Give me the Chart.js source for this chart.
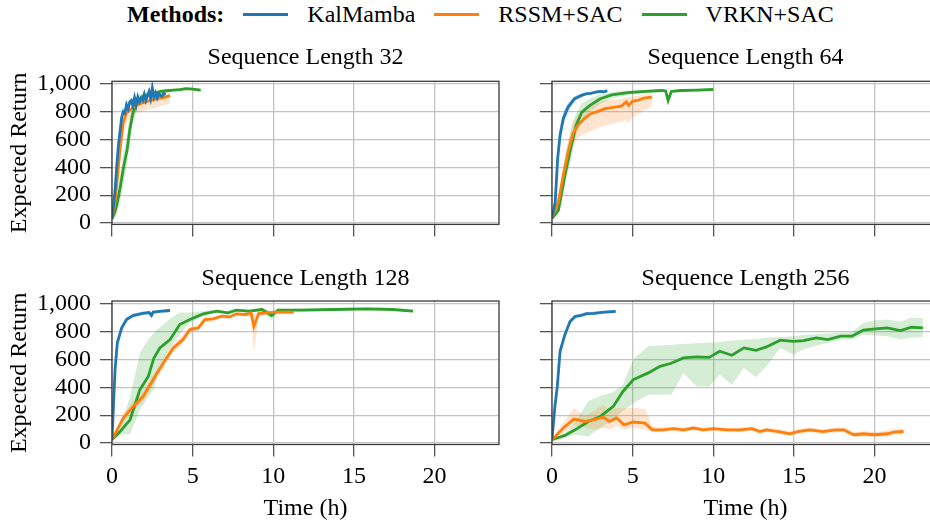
<!DOCTYPE html>
<html>
<head>
<meta charset="utf-8">
<script src="https://cdn.jsdelivr.net/npm/chart.js@4.4.1/dist/chart.umd.min.js"></script>
<style>
  html, body { margin: 0; padding: 0; background: #fff; }
  body { width: 930px; height: 523px; overflow: hidden; position: relative; }
  canvas { position: absolute; }
  #legend {
    position: absolute; left: 127px; top: 1px; white-space: nowrap;
    font-family: 'Liberation Serif', 'Times New Roman', serif; font-size: 24px; line-height: 27px;
    color: #000;
  }
  #legend .sw { display: inline-block; width: 45px; height: 3px; vertical-align: 6px; margin: 0 19px; }
</style>
</head>
<body>
<div id="legend"></div>
<canvas id="c32" width="520" height="230" style="left:0px;top:30px;width:520px;height:230px"></canvas>
<canvas id="c64" width="420" height="230" style="left:520px;top:30px;width:420px;height:230px"></canvas>
<canvas id="c128" width="520" height="263" style="left:0px;top:260px;width:520px;height:263px"></canvas>
<canvas id="c256" width="420" height="263" style="left:520px;top:260px;width:420px;height:263px"></canvas>
<script>
// ---- data (time in h, expected return) ----
var methodNames = ['KalMamba', 'RSSM+SAC', 'VRKN+SAC'];
var methodColors = ['#1f77b4', '#ff7f0e', '#2ca02c'];
var bandColors = ['rgba(31,119,180,0.22)', 'rgba(255,127,14,0.2)', 'rgba(44,160,44,0.2)'];
var panelTitles = ['Sequence Length 32', 'Sequence Length 64', 'Sequence Length 128', 'Sequence Length 256'];
var xTicks = [0, 5, 10, 15, 20];
var yTicks = [0, 200, 400, 600, 800, 1000];
var yTickLabels = ['0', '200', '400', '600', '800', '1,000'];

// sequence length 32
var kal32T = [0, 0.1, 0.2, 0.3, 0.4, 0.5, 0.6, 0.7, 0.8, 0.9, 1.0, 1.1, 1.2, 1.3, 1.4, 1.5, 1.6, 1.7, 1.8, 1.9, 2.0, 2.1, 2.2, 2.3, 2.4, 2.5, 2.6, 2.7, 2.8, 2.9, 3.0, 3.1, 3.2, 3.33];
var kal32Mean = [30, 130, 250, 420, 560, 660, 760, 800, 790, 850, 820, 870, 880, 840, 900, 850, 905, 870, 895, 880, 925, 880, 915, 945, 895, 970, 905, 935, 900, 930, 915, 910, 930, 925];
var kal32Lo = [26, 100, 210, 370, 510, 620, 720, 770, 760, 820, 795, 845, 855, 815, 875, 825, 880, 845, 870, 855, 900, 855, 890, 915, 870, 935, 880, 910, 875, 905, 890, 885, 905, 900];
var kal32Hi = [34, 160, 290, 470, 610, 700, 800, 830, 820, 880, 845, 895, 905, 865, 925, 875, 930, 895, 920, 905, 950, 905, 940, 970, 920, 995, 930, 960, 925, 955, 940, 935, 955, 950];
var rssm32T = [0, 0.15, 0.3, 0.5, 0.7, 0.9, 1.2, 1.5, 1.8, 2.1, 2.4, 2.7, 3.0, 3.3, 3.6];
var rssm32Mean = [35, 120, 280, 535, 725, 790, 820, 845, 860, 870, 880, 890, 897, 905, 915];
var rssm32Lo = [30, 80, 200, 440, 640, 720, 760, 790, 800, 810, 820, 830, 840, 850, 860];
var rssm32Hi = [40, 160, 360, 620, 800, 850, 880, 900, 915, 920, 925, 930, 935, 935, 935];
var vrkn32T = [0, 0.15, 0.3, 0.5, 0.7, 0.95, 1.1, 1.3, 1.6, 1.9, 2.2, 2.6, 3.0, 3.4, 3.8, 4.2, 4.6, 5.0, 5.5];
var vrkn32Mean = [30, 70, 130, 250, 390, 535, 670, 790, 875, 910, 920, 930, 945, 950, 955, 958, 965, 962, 955];
var vrkn32Lo = [28, 40, 70, 150, 280, 430, 580, 720, 830, 885, 905, 915, 935, 940, 945, 948, 955, 952, 945];
var vrkn32Hi = [32, 100, 190, 350, 500, 640, 760, 850, 910, 935, 940, 945, 955, 960, 965, 968, 975, 972, 965];

// sequence length 64
var kal64T = [0, 0.2, 0.35, 0.5, 0.7, 1.0, 1.4, 1.8, 2.1, 2.4, 2.7, 3.0, 3.2, 3.43];
var kal64Mean = [34, 153, 463, 630, 749, 833, 893, 915, 928, 932, 940, 945, 942, 950];
var kal64Lo = [30, 100, 380, 560, 700, 800, 875, 905, 918, 922, 930, 935, 932, 940];
var kal64Hi = [38, 210, 540, 700, 800, 865, 910, 928, 938, 942, 950, 955, 952, 960];
var rssm64T = [0, 0.4, 0.7, 1.0, 1.3, 1.6, 2.0, 2.4, 2.8, 3.3, 3.8, 4.3, 4.6, 4.75, 5.0, 5.3, 5.6, 5.9, 6.2];
var rssm64Mean = [40, 153, 344, 510, 642, 702, 749, 785, 800, 821, 830, 840, 870, 845, 875, 880, 893, 900, 905];
var rssm64Lo = [35, 120, 290, 440, 560, 610, 640, 660, 680, 700, 715, 730, 740, 720, 760, 780, 800, 820, 840];
var rssm64Hi = [45, 190, 400, 580, 720, 780, 820, 850, 870, 880, 885, 890, 905, 900, 910, 915, 920, 925, 925];
var vrkn64T = [0, 0.4, 0.8, 1.2, 1.5, 1.85, 2.35, 3.0, 3.7, 4.7, 5.8, 6.8, 7.05, 7.2, 7.4, 8.0, 9.0, 10.0];
var vrkn64Mean = [34, 93, 344, 558, 702, 797, 845, 893, 921, 936, 945, 952, 948, 880, 945, 952, 955, 959];
var vrkn64Lo = [30, 60, 270, 470, 630, 740, 800, 855, 895, 918, 933, 943, 938, 840, 935, 943, 947, 951];
var vrkn64Hi = [38, 150, 480, 690, 790, 860, 895, 925, 942, 952, 957, 961, 958, 920, 955, 961, 963, 967];

// sequence length 128
var kal128T = [0, 0.08, 0.19, 0.33, 0.6, 0.9, 1.3, 1.9, 2.3, 2.45, 2.55, 2.7, 3.1, 3.6];
var kal128Mean = [22, 239, 526, 718, 826, 885, 914, 930, 935, 915, 938, 940, 945, 950];
var kal128Lo = [20, 200, 480, 680, 800, 868, 900, 918, 924, 895, 926, 928, 934, 938];
var kal128Hi = [24, 280, 570, 750, 850, 900, 928, 942, 946, 935, 950, 952, 956, 962];
var rssm128T = [0, 0.7, 1.32, 1.94, 2.56, 3.18, 3.8, 4.4, 4.83, 5.35, 5.76, 6.28, 6.8, 7.3, 7.7, 8.3, 8.62, 8.8, 9.1, 9.6, 10.2, 11.27];
var rssm128Mean = [24, 179, 263, 335, 455, 574, 682, 742, 813, 825, 885, 890, 909, 904, 926, 921, 933, 837, 928, 933, 938, 938];
var rssm128Lo = [22, 150, 230, 300, 420, 540, 650, 710, 790, 805, 865, 875, 895, 890, 912, 905, 918, 646, 915, 920, 925, 925];
var rssm128Hi = [26, 210, 300, 370, 490, 610, 715, 775, 835, 845, 905, 905, 923, 918, 940, 937, 948, 930, 941, 946, 951, 951];
var vrkn128T = [0, 0.5, 1.12, 1.73, 2.25, 2.6, 2.97, 3.6, 4.2, 4.83, 5.66, 6.5, 7.2, 7.7, 8.5, 9.3, 9.9, 10.3, 11.7, 13.7, 15.8, 17.4, 18.67];
var vrkn128Mean = [24, 83, 167, 383, 478, 610, 682, 742, 849, 885, 926, 945, 933, 952, 945, 957, 914, 952, 952, 957, 962, 957, 945];
var vrkn128Lo = [22, 60, 65, 239, 330, 390, 560, 680, 780, 860, 910, 935, 920, 942, 935, 945, 880, 942, 942, 948, 952, 948, 935];
var vrkn128Hi = [26, 110, 330, 646, 740, 790, 830, 890, 935, 935, 945, 955, 945, 962, 955, 967, 945, 962, 962, 967, 972, 967, 955];

// sequence length 256
var kal256T = [0, 0.18, 0.33, 0.5, 0.8, 1.12, 1.43, 1.8, 2.15, 2.6, 3.1, 3.5, 3.95];
var kal256Mean = [24, 263, 406, 658, 777, 871, 907, 915, 927, 930, 936, 940, 944];
var kal256Lo = [22, 230, 370, 625, 750, 850, 890, 902, 915, 918, 924, 928, 932];
var kal256Hi = [26, 300, 440, 690, 800, 890, 922, 928, 939, 942, 948, 952, 956];
var rssm256T = [0, 0.7, 1.36, 2.05, 2.75, 3.16, 3.57, 4.0, 4.47, 5.05, 5.77, 6.22, 6.9, 7.53, 8.15, 8.77, 9.4, 10.0, 10.85, 11.65, 12.4, 12.9, 13.3, 14.05, 14.76, 15.25, 16.0, 16.8, 17.6, 18.1, 18.7, 19.3, 20.0, 20.8, 21.2, 21.8];
var rssm256Mean = [24, 108, 172, 155, 172, 187, 155, 180, 131, 151, 143, 95, 95, 103, 95, 108, 95, 103, 95, 95, 103, 83, 95, 83, 67, 83, 95, 83, 95, 95, 60, 67, 60, 67, 79, 83];
var rssm256Lo = [22, 70, 131, 110, 95, 108, 100, 120, 100, 110, 100, 78, 78, 86, 78, 92, 78, 86, 78, 78, 86, 66, 78, 66, 50, 66, 78, 66, 78, 78, 42, 48, 42, 48, 60, 62];
var rssm256Hi = [26, 150, 251, 191, 240, 275, 240, 251, 250, 251, 245, 120, 112, 118, 110, 122, 110, 118, 110, 110, 118, 100, 112, 100, 85, 100, 112, 100, 112, 112, 80, 85, 80, 90, 100, 105];
var vrkn256T = [0, 0.8, 1.43, 2.25, 3.0, 3.8, 4.4, 5.05, 5.97, 6.7, 7.4, 8.15, 8.97, 9.75, 10.4, 11.15, 11.9, 12.65, 13.3, 14.15, 14.97, 15.6, 16.4, 17.1, 17.9, 18.6, 19.3, 20.04, 20.8, 21.6, 22.3, 23.0];
var vrkn256Mean = [24, 55, 95, 155, 191, 263, 370, 455, 503, 550, 572, 610, 617, 614, 658, 629, 682, 665, 689, 737, 729, 734, 754, 742, 766, 766, 809, 818, 826, 806, 830, 826];
var vrkn256Lo = [22, 40, 60, 48, 110, 170, 230, 285, 347, 347, 347, 502, 406, 406, 490, 418, 538, 474, 550, 682, 634, 670, 700, 718, 742, 742, 777, 770, 766, 742, 754, 760];
var vrkn256Hi = [26, 70, 150, 300, 340, 365, 420, 600, 695, 700, 705, 710, 715, 720, 725, 735, 740, 745, 755, 760, 765, 775, 780, 785, 790, 795, 860, 880, 885, 870, 900, 895];

// ---- drawing ----
var FONT = "'Liberation Serif', 'Times New Roman', serif";
Chart.defaults.font.family = FONT;
Chart.defaults.color = '#000';

function series(i, t, mean, lo, hi) {
    return { t: t, mean: mean, lo: lo, hi: hi, color: methodColors[i], band: bandColors[i] };
}

var panels = [
    { id: 'c32', title: panelTitles[0], left: true, bottom: false,
      series: [series(0, kal32T, kal32Mean, kal32Lo, kal32Hi), series(1, rssm32T, rssm32Mean, rssm32Lo, rssm32Hi), series(2, vrkn32T, vrkn32Mean, vrkn32Lo, vrkn32Hi)] },
    { id: 'c64', title: panelTitles[1], left: false, bottom: false,
      series: [series(0, kal64T, kal64Mean, kal64Lo, kal64Hi), series(1, rssm64T, rssm64Mean, rssm64Lo, rssm64Hi), series(2, vrkn64T, vrkn64Mean, vrkn64Lo, vrkn64Hi)] },
    { id: 'c128', title: panelTitles[2], left: true, bottom: true,
      series: [series(0, kal128T, kal128Mean, kal128Lo, kal128Hi), series(1, rssm128T, rssm128Mean, rssm128Lo, rssm128Hi), series(2, vrkn128T, vrkn128Mean, vrkn128Lo, vrkn128Hi)] },
    { id: 'c256', title: panelTitles[3], left: false, bottom: true,
      series: [series(0, kal256T, kal256Mean, kal256Lo, kal256Hi), series(1, rssm256T, rssm256Mean, rssm256Lo, rssm256Hi), series(2, vrkn256T, vrkn256Mean, vrkn256Lo, vrkn256Hi)] }
];

function pts(t, v) {
    return t.map(function (x, i) { return { x: x, y: v[i] }; });
}

function makeDatasets(list) {
    var ds = [];
    list.forEach(function (s) {
        ds.push({ data: pts(s.t, s.lo), borderWidth: 0, borderColor: 'rgba(0,0,0,0)', pointRadius: 0, fill: false, order: 2 });
        ds.push({ data: pts(s.t, s.hi), borderWidth: 0, borderColor: 'rgba(0,0,0,0)', pointRadius: 0, fill: '-1', backgroundColor: s.band, order: 2 });
    });
    list.forEach(function (s) {
        ds.push({ data: pts(s.t, s.mean), borderColor: s.color, borderWidth: 2.8, pointRadius: 0, fill: false, order: 1 });
    });
    return ds;
}

// box round the plot area
var frame = {
    id: 'frame',
    afterDatasetsDraw: function (chart) {
        var a = chart.chartArea, ctx = chart.ctx;
        ctx.save();
        ctx.strokeStyle = '#3a3a3a';
        ctx.lineWidth = 1.3;
        ctx.strokeRect(a.left, a.top, a.right - a.left, a.bottom - a.top);
        ctx.restore();
    }
};

panels.forEach(function (p) {
    var ctx = document.getElementById(p.id).getContext('2d');
    new Chart(ctx, {
        type: 'line',
        data: { datasets: makeDatasets(p.series) },
        plugins: [frame],
        options: {
            responsive: false,
            animation: false,
            events: [],
            layout: { padding: { left: 0, top: 0, right: p.left ? 21 : 1, bottom: 0 } },
            plugins: {
                legend: { display: false },
                tooltip: { enabled: false },
                title: {
                    display: true, text: p.title, fullSize: false, color: '#000',
                    font: { size: 24, weight: 'normal', lineHeight: 1.2 },
                    padding: p.bottom ? { top: 4.6, bottom: 7.6 } : { top: 13.6, bottom: 8.9 }
                }
            },
            scales: {
                x: {
                    type: 'linear', min: 0, max: 24,
                    afterBuildTicks: function (scale) { scale.ticks = xTicks.map(function (v) { return { value: v }; }); },
                    afterFit: function (scale) { scale.height = p.bottom ? 78.5 : 35.6; },
                    border: { display: false },
                    grid: { color: '#c4c4c4', lineWidth: 1.3, tickColor: '#555', tickWidth: 1.3, tickLength: 12 },
                    ticks: {
                        autoSkip: false, maxRotation: 0, padding: 6, color: '#000',
                        font: { size: 24, lineHeight: 1.15 },
                        callback: function (v) { return p.bottom ? String(v) : ''; }
                    },
                    title: {
                        display: p.bottom, text: 'Time (h)', color: '#000',
                        font: { size: 24, lineHeight: 1.2 }, padding: { top: 0, bottom: 0 }
                    }
                },
                y: {
                    type: 'linear', min: -10, max: 1018,
                    afterBuildTicks: function (scale) { scale.ticks = yTicks.map(function (v) { return { value: v }; }); },
                    afterFit: function (scale) { scale.width = p.left ? 112 : 32; },
                    border: { display: false },
                    grid: { color: '#c4c4c4', lineWidth: 1.3, tickColor: '#555', tickWidth: 1.3, tickLength: 12 },
                    ticks: {
                        autoSkip: false, padding: 9, color: '#000',
                        font: { size: 24, lineHeight: 1.2 },
                        callback: function (v, i) { return p.left ? yTickLabels[i] : ''; }
                    },
                    title: {
                        display: p.left, text: 'Expected Return', color: '#000',
                        font: { size: 24, lineHeight: 1.2 }, padding: { top: 5.6, bottom: 0 }
                    }
                }
            }
        }
    });
});

// legend row on top
var legend = document.getElementById('legend');
legend.innerHTML = '<b>Methods:</b>';
methodNames.forEach(function (name, i) {
    var sw = document.createElement('span');
    sw.className = 'sw';
    sw.style.background = methodColors[i];
    legend.appendChild(sw);
    legend.appendChild(document.createTextNode(name));
});
</script>
</body>
</html>
